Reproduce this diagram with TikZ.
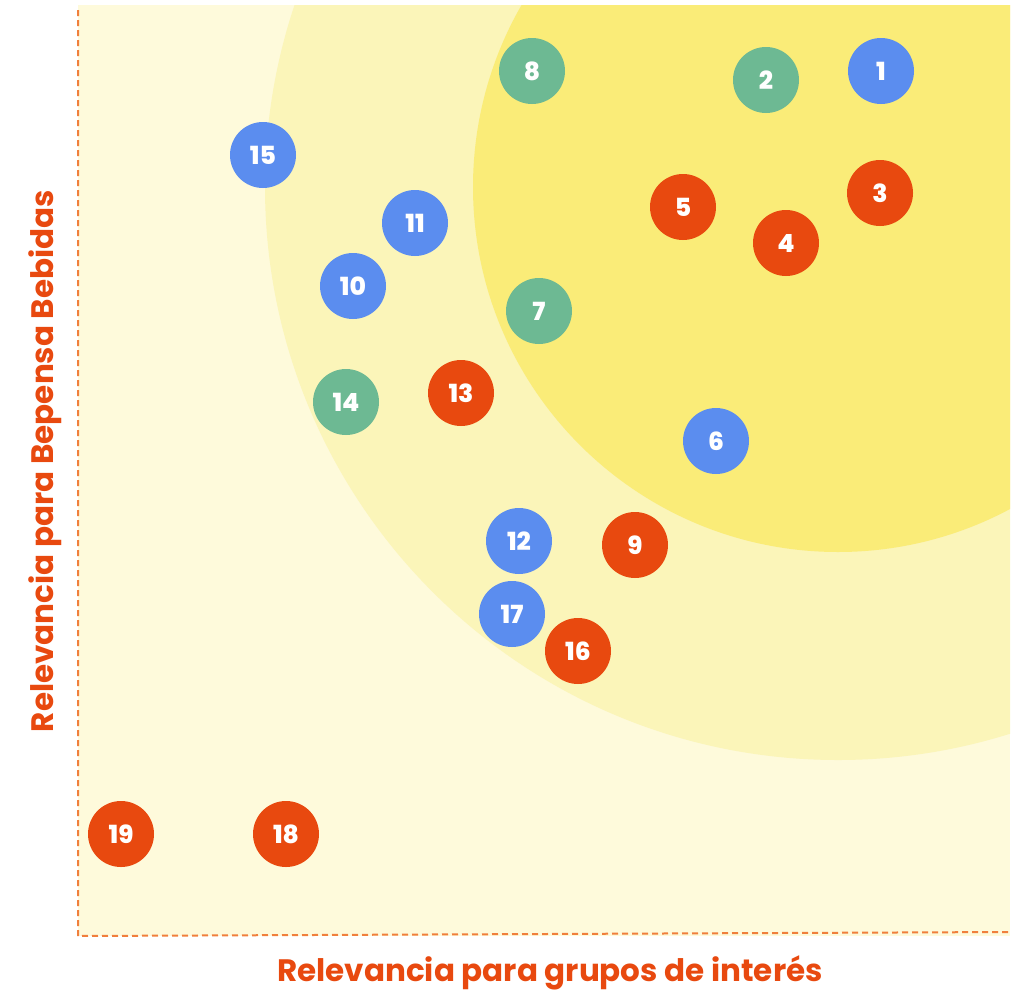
\documentclass[tikz,border=0pt]{standalone}
\usepackage{fontspec}
\setmainfont{Poppins}[BoldFont={* Bold}]
\newfontfamily\heavyfont{Poppins}[UprightFont={* ExtraBold}]
\usepackage{tikz}

\definecolor{bgpale}{RGB}{254,250,219}
\definecolor{bgmid}{RGB}{251,245,185}
\definecolor{bgcore}{RGB}{250,236,120}
\definecolor{dotred}{RGB}{232,73,15}
\definecolor{dotblue}{RGB}{91,141,239}
\definecolor{dotgreen}{RGB}{109,185,147}
\definecolor{axisorange}{RGB}{240,127,60}

\begin{document}
\begin{tikzpicture}[x=1pt,y=-1pt]

    \tikzstyle{topic node} = [circle, minimum size=66pt, inner sep=0pt,
                              text=white, font=\heavyfont\fontsize{25}{25}\selectfont];
    \tikzstyle{red node} = [topic node, fill=dotred];
    \tikzstyle{blue node} = [topic node, fill=dotblue];
    \tikzstyle{green node} = [topic node, fill=dotgreen];
    \tikzstyle{axis label} = [text=dotred, font=\bfseries\fontsize{31}{31}\selectfont];

    \useasboundingbox (0,0) rectangle (1022,996);

    % Background zones
    \fill[bgpale] (78,5) rectangle (1010,936);
    \begin{scope}
        \clip (78,5) rectangle (1010,936);
        \fill[bgmid] (838,187) circle (573);
        \fill[bgcore] (838,187) circle (365);
    \end{scope}

    % Axes
    \draw[axisorange, dash pattern=on 6pt off 4pt, line width=2pt] (78,10) -- (78,936) -- (1010,932);

    % Topics
    \node[blue node] (T1) at (881,71) {1};
    \node[green node] (T2) at (766,80) {2};
    \node[red node] (T3) at (880,193) {3};
    \node[red node] (T4) at (786,243) {4};
    \node[red node] (T5) at (683,207) {5};
    \node[blue node] (T6) at (716,441) {6};
    \node[green node] (T7) at (539,311) {7};
    \node[green node] (T8) at (532,71) {8};
    \node[red node] (T9) at (635,545) {9};
    \node[blue node] (T10) at (353,286) {10};
    \node[blue node] (T11) at (415,223) {11};
    \node[blue node] (T12) at (519,541) {12};
    \node[red node] (T13) at (461,393) {13};
    \node[green node] (T14) at (346,402) {14};
    \node[blue node] (T15) at (263,155) {15};
    \node[red node] (T16) at (578,651) {16};
    \node[blue node] (T17) at (512,614) {17};
    \node[red node] (T18) at (286,834) {18};
    \node[red node] (T19) at (121,834) {19};

    % Axis labels
    \node[axis label] (xlabel) at (550,973) {Relevancia para grupos de interés};
    \node[axis label, rotate=90] (ylabel) at (45,461) {Relevancia para Bepensa Bebidas};

\end{tikzpicture}
\end{document}
